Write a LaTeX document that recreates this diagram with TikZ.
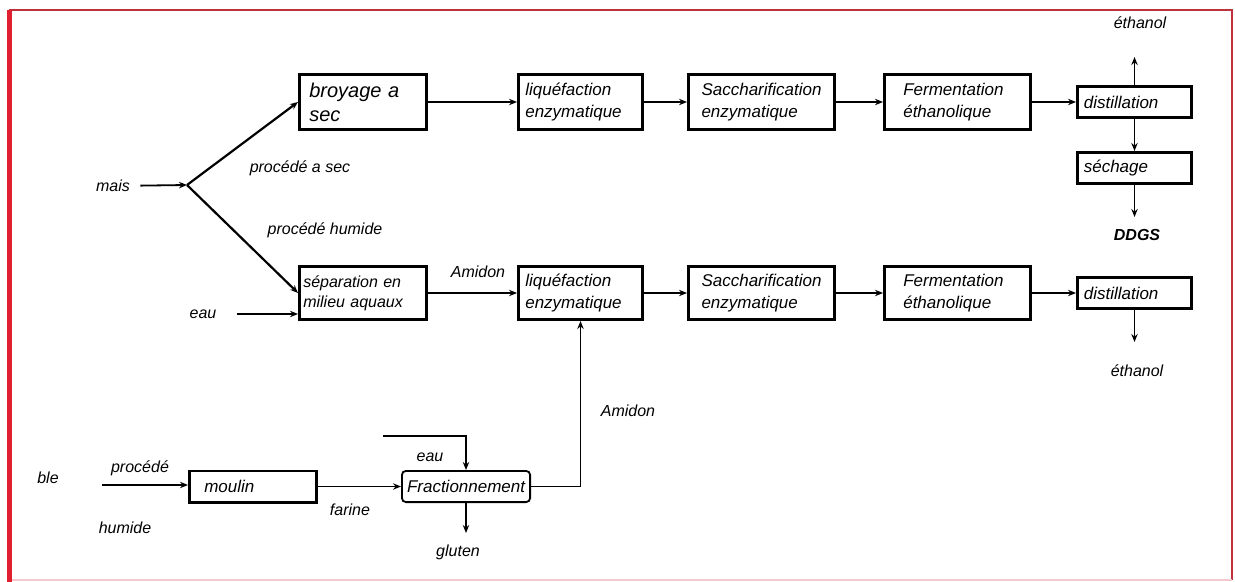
\documentclass[tikz,border=0pt]{standalone}
\usepackage{fontspec}
\setmainfont{Liberation Sans}
\usetikzlibrary{positioning,arrows.meta}
\definecolor{cadrerouge}{RGB}{224,32,48}
\definecolor{cadresombre}{RGB}{190,50,60}
\definecolor{cadrepale}{RGB}{245,200,205}
\tikzset{
  flowpic/.style={
    x=0.5pt
    ,y=-0.5pt
    ,node distance=20pt
    ,font=\itshape\fontsize{8}{9.5}\selectfont
  }
  ,etape/.style={
    draw=black
    ,line width=1.3pt
    ,align=left
    ,inner ysep=1pt
    ,minimum height=27.7pt
    ,font=\itshape\fontsize{8.5}{11}\selectfont
  }
  ,basetape/.style={etape,minimum height=26.7pt}
  ,petiteetape/.style={etape,minimum height=15.7pt}
  ,libelle/.style={inner sep=1pt}
  ,fleche/.style={line width=0.9pt,-{Stealth[length=4pt,width=3.2pt]}}
  ,trait/.style={line width=0.9pt}
}

\begin{document}
\begin{tikzpicture}[flowpic]
    \useasboundingbox (0,0) rectangle (1235,582);
    % cadre
    \draw[cadresombre,line width=0.8pt] (10,580) -- (10,10) -- (1232,10) -- (1232,580);
    \draw[cadrepale,line width=0.8pt] (10,580) -- (1232,580);
    \draw[cadrerouge,line width=2.5pt] (9.5,10) -- (9.5,582);

    % voie seche
    \node[etape,text width=53.7pt,inner xsep=5pt
      ,font=\itshape\fontsize{10}{12}\selectfont] (broy) at (363,102) {broyage a\\sec};
    \node[etape,text width=55.2pt,inner xsep=3.5pt,right=44.5pt of broy] (liq1) {liquéfaction\\enzymatique};
    \node[etape,text width=60pt,inner xsep=6.6pt,right=21.5pt of liq1] (sac1) {Saccharification\\enzymatique};
    \node[etape,text width=54.2pt,inner xsep=9.5pt,right=23.5pt of sac1] (fer1) {Fermentation\\éthanolique};
    \node[petiteetape,text width=50.7pt,inner xsep=3.25pt,right=22pt of fer1] (dist1) {distillation};
    \node[petiteetape,text width=50.7pt,inner xsep=3.25pt,below=16pt of dist1] (sech) {séchage};

    % voie humide
    \node[basetape,text width=59.7pt,inner xsep=2pt
      ,font=\itshape\fontsize{8}{10}\selectfont] (sep) at (363,293) {séparation en\\milieu aquaux};
    \node[basetape,text width=55.2pt,inner xsep=3.5pt,right=44.5pt of sep] (liq2) {liquéfaction\\enzymatique};
    \node[basetape,text width=60pt,inner xsep=6.6pt,right=21.5pt of liq2] (sac2) {Saccharification\\enzymatique};
    \node[basetape,text width=54.2pt,inner xsep=9.5pt,right=23.5pt of sac2] (fer2) {Fermentation\\éthanolique};
    \node[petiteetape,text width=50.7pt,inner xsep=3.25pt,right=22pt of fer2] (dist2) {distillation};

    % ble
    \node[etape,line width=0.9pt,rounded corners=2pt,minimum height=15.6pt
      ,text width=59pt,inner xsep=2.55pt] (frac) at (466,486.5) {Fractionnement};
    \node[petiteetape,text width=48.7pt,inner xsep=7.5pt,left=41.5pt of frac] (moulin) {moulin};

    % libelles
    \node[libelle] (mais) at (113,186) {mais};
    \coordinate (fourche) at (187,185);
    \node[libelle] (psec) at (300,168) {procédé a sec};
    \node[libelle] (phum) at (325,230) {procédé humide};
    \node[libelle] (eau1) at (203,314) {eau};
    \node[libelle] (amidon1) at (478,272) {Amidon};
    \node[libelle] (amidon2) at (628,411) {Amidon};
    \node[libelle] (eth1) at (1140,23) {éthanol};
    \coordinate (eth1bout) at (1134.5,57);
    \node[libelle,font=\bfseries\itshape\fontsize{8}{9.5}\selectfont] (ddgs) at (1137,235) {DDGS};
    \coordinate (ddgsbout) at (1134.5,217);
    \node[libelle] (eth2) at (1137,371) {éthanol};
    \coordinate (eth2bout) at (1134.5,342);
    \coordinate (eau2debut) at (383,436);
    \node[libelle] (eau2) at (430,457) {eau};
    \node[libelle] (gluten) at (458,552) {gluten};
    \coordinate (glutenbout) at (466,533);
    \node[libelle] (farine) at (350,510) {farine};
    \node[libelle] (ble) at (48,478) {ble};
    \node[libelle] (procede) at (140,468) {procédé};
    \node[libelle] (humide) at (125,528) {humide};
    \coordinate (bledebut) at (102,485);

    % fleches
    \draw[fleche,shorten <=4pt] (mais) -- (fourche);
    \draw[fleche,line width=1.1pt] (fourche) -- (broy.west);
    \draw[fleche,line width=1.1pt] (fourche) -- (sep.west);
    \draw[fleche,shorten <=9pt] (eau1) -- (eau1 -| sep.west);
    \draw[fleche] (broy) -- (liq1);
    \draw[fleche] (liq1) -- (sac1);
    \draw[fleche] (sac1) -- (fer1);
    \draw[fleche] (fer1) -- (dist1);
    \draw[fleche] (dist1.north) -- (dist1.north |- eth1bout);
    \draw[fleche] (dist1) -- (sech);
    \draw[fleche] (sech.south) -- (sech.south |- ddgsbout);
    \draw[fleche] (sep) -- (liq2);
    \draw[fleche] (liq2) -- (sac2);
    \draw[fleche] (sac2) -- (fer2);
    \draw[fleche] (fer2) -- (dist2);
    \draw[fleche] (dist2.south) -- (dist2.south |- eth2bout);
    \draw[fleche] (frac.east) -| (liq2.south);
    \draw[fleche,line width=1.2pt] (eau2debut) -| (frac.north);
    \draw[fleche] (frac.south) -- (frac.south |- glutenbout);
    \draw[fleche] (moulin) -- (frac);
    \draw[fleche] (bledebut) -- (bledebut -| moulin.west);
\end{tikzpicture}
\end{document}
